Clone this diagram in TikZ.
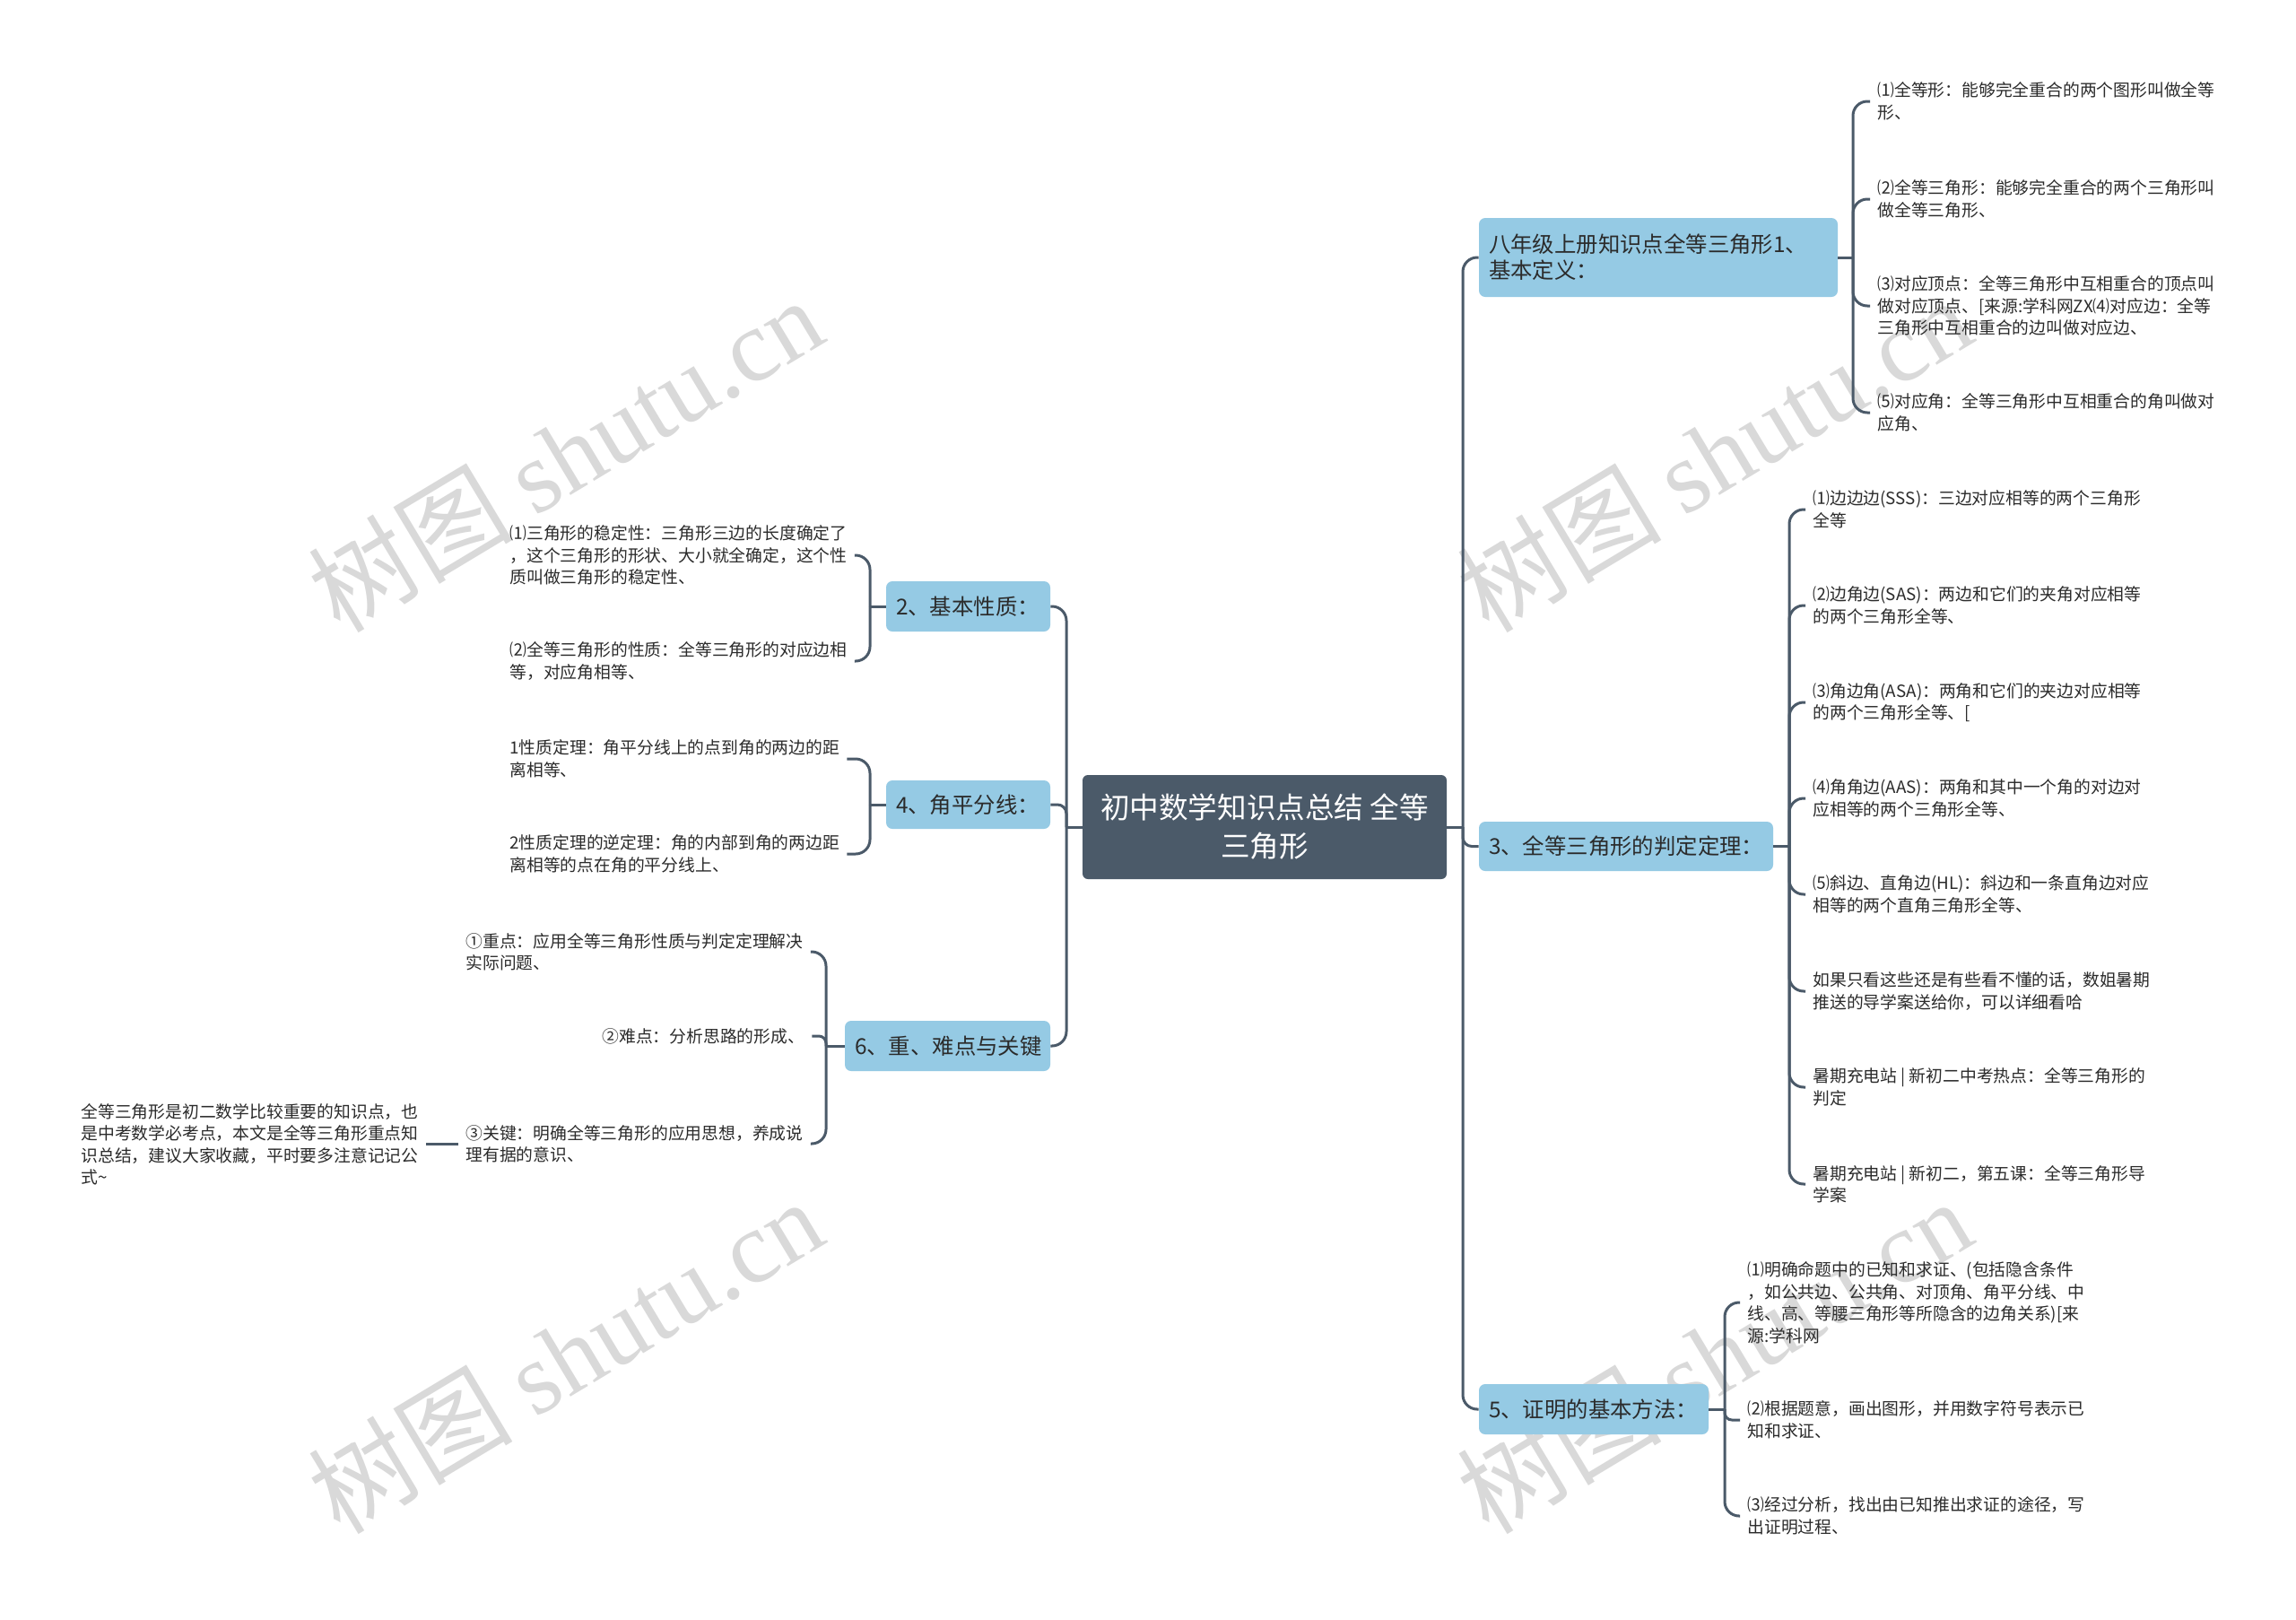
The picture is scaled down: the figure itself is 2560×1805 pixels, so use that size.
\documentclass[tikz,border=0pt]{standalone}
\usepackage{fontspec}
\setmainfont{Noto Sans CJK SC}
\newfontfamily\wmserif{Liberation Serif}
\definecolor{rootc}{HTML}{4B5A69}
\definecolor{branchc}{HTML}{95CAE4}
\definecolor{linec}{HTML}{4B5A69}
\definecolor{txtc}{HTML}{2B2B2B}
\tikzset{
  rootbox/.style={fill=rootc, rounded corners=3pt, text=white, align=center,
    minimum width=203pt, minimum height=58pt, inner sep=0pt,
    font=\fontsize{16.3}{21.5}\selectfont},
  branchbox/.style={fill=branchc, rounded corners=3.5pt, text=txtc, align=left,
    inner xsep=5.5pt, inner ysep=0pt, font=\fontsize{12.2}{14.5}\selectfont},
  leaf/.style={text=txtc, align=left, inner xsep=4pt, inner ysep=2pt,
    font=\fontsize{9.4}{12.25}\selectfont},
  conn/.style={draw=linec, line width=1.5pt, rounded corners=8pt},
  wm/.style={text=black!15, rotate=31, inner sep=0pt,
    font=\fontsize{57}{60}\selectfont}
}
\begin{document}
\begin{tikzpicture}[x=0.5pt,y=-0.5pt]
\useasboundingbox (0,0) rectangle (2560,1805);
\fill[white] (0,0) rectangle (2560,1805);

% watermarks
\node[wm] (wm1) at (630,506) {树图 {\wmserif shutu.cn}};
\node[wm] (wm2) at (630,1511) {树图 {\wmserif shutu.cn}};
\node[wm] (wm3) at (1911,506) {树图 {\wmserif shutu.cn}};
\node[wm] (wm4) at (1911,1511) {树图 {\wmserif shutu.cn}};

% root
\node[rootbox] (root) at (1410,922) {初中数学知识点总结 全等\\三角形};

% right branches
\node[branchbox, text width=189pt, minimum height=44pt] (n1) at (1849,287)
  {八年级上册知识点全等三角形1、\\基本定义：};
\node[branchbox, text width=153pt, minimum height=27.5pt] (n3) at (1813,943.5)
  {3、全等三角形的判定定理：};
\node[branchbox, text width=117pt, minimum height=28pt] (n5) at (1777,1571)
  {5、证明的基本方法：};

% left branches
\node[branchbox, text width=80.5pt, minimum height=28pt] (n2) at (1079.5,676)
  {2、基本性质：};
\node[branchbox, text width=80.5pt, minimum height=27pt] (n4) at (1079.5,897)
  {4、角平分线：};
\node[branchbox, text width=103.5pt, minimum height=28pt] (n6) at (1056.5,1166)
  {6、重、难点与关键};

% leaves of n1
\node[leaf, anchor=west] (l1a) at (2085,113) {⑴全等形：能够完全重合的两个图形叫做全等\\形、};
\node[leaf, anchor=west] (l1b) at (2085,222) {⑵全等三角形：能够完全重合的两个三角形叫\\做全等三角形、};
\node[leaf, anchor=west] (l1c) at (2085,341) {⑶对应顶点：全等三角形中互相重合的顶点叫\\做对应顶点、[来源:学科网ZX⑷对应边：全等\\三角形中互相重合的边叫做对应边、};
\node[leaf, anchor=west] (l1d) at (2085,460) {⑸对应角：全等三角形中互相重合的角叫做对\\应角、};

% leaves of n3
\node[leaf, anchor=west] (l3a) at (2013,568) {⑴边边边(SSS)：三边对应相等的两个三角形\\全等};
\node[leaf, anchor=west] (l3b) at (2013,675) {⑵边角边(SAS)：两边和它们的夹角对应相等\\的两个三角形全等、};
\node[leaf, anchor=west] (l3c) at (2013,783) {⑶角边角(ASA)：两角和它们的夹边对应相等\\的两个三角形全等、[};
\node[leaf, anchor=west] (l3d) at (2013,890) {⑷角角边(AAS)：两角和其中一个角的对边对\\应相等的两个三角形全等、};
\node[leaf, anchor=west] (l3e) at (2013,997) {⑸斜边、直角边(HL)：斜边和一条直角边对应\\相等的两个直角三角形全等、};
\node[leaf, anchor=west] (l3f) at (2013,1105) {如果只看这些还是有些看不懂的话，数姐暑期\\推送的导学案送给你，可以详细看哈};
\node[leaf, anchor=west] (l3g) at (2013,1212) {暑期充电站 | 新初二中考热点：全等三角形的\\判定};
\node[leaf, anchor=west] (l3h) at (2013,1320) {暑期充电站 | 新初二，第五课：全等三角形导\\学案};

% leaves of n5
\node[leaf, anchor=west] (l5a) at (1940,1452) {⑴明确命题中的已知和求证、(包括隐含条件\\，如公共边、公共角、对顶角、角平分线、中\\线、高、等腰三角形等所隐含的边角关系)[来\\源:学科网};
\node[leaf, anchor=west] (l5b) at (1940,1583) {⑵根据题意，画出图形，并用数字符号表示已\\知和求证、};
\node[leaf, anchor=west] (l5c) at (1940,1690) {⑶经过分析，找出由已知推出求证的途径，写\\出证明过程、};

% leaves of n2
\node[leaf, anchor=west] (l2a) at (560,619) {⑴三角形的稳定性：三角形三边的长度确定了\\，这个三角形的形状、大小就全确定，这个性\\质叫做三角形的稳定性、};
\node[leaf, anchor=west] (l2b) at (560,737) {⑵全等三角形的性质：全等三角形的对应边相\\等，对应角相等、};

% leaves of n4
\node[leaf, anchor=west] (l4a) at (560,846) {1性质定理：角平分线上的点到角的两边的距\\离相等、};
\node[leaf, anchor=west] (l4b) at (560,952) {2性质定理的逆定理：角的内部到角的两边距\\离相等的点在角的平分线上、};

% leaves of n6
\node[leaf, anchor=west] (l6a) at (511,1061) {①重点：应用全等三角形性质与判定定理解决\\实际问题、};
\node[leaf, anchor=west] (l6b) at (663,1155) {②难点：分析思路的形成、};
\node[leaf, anchor=west] (l6c) at (511,1275) {③关键：明确全等三角形的应用思想，养成说\\理有据的意识、};
\node[leaf, anchor=west] (l6d) at (82,1276) {全等三角形是初二数学比较重要的知识点，也\\是中考数学必考点，本文是全等三角形重点知\\识总结，建议大家收藏，平时要多注意记记公\\式\textasciitilde};

% junction coordinates
\coordinate (rR) at (1631,922);
\coordinate (rL) at (1189,922);
\coordinate (b1) at (2066,287);
\coordinate (b3) at (1995,943.5);
\coordinate (b5) at (1923,1571);
\coordinate (b2) at (970,676);
\coordinate (b4) at (970,897);
\coordinate (b6) at (921,1166);

% root connectors
\draw[conn] (root.east) -- (rR);
\draw[conn] (rR) |- (n1.west);
\draw[conn, rounded corners=5pt] (rR) |- (n3.west);
\draw[conn] (rR) |- (n5.west);
\draw[conn] (root.west) -- (rL);
\draw[conn] (rL) |- (n2.east);
\draw[conn, rounded corners=5pt] (rL) |- (n4.east);
\draw[conn] (rL) |- (n6.east);

% n1 leaves
\draw[conn] (n1.east) -- (b1);
\foreach \l in {l1a,l1b,l1c,l1d} \draw[conn] (b1) |- (\l.west);
% n3 leaves
\draw[conn] (n3.east) -- (b3);
\foreach \l in {l3a,l3b,l3c,l3d,l3e,l3f,l3g,l3h} \draw[conn] (b3) |- (\l.west);
% n5 leaves
\draw[conn] (n5.east) -- (b5);
\draw[conn] (b5) |- (l5a.west);
\draw[conn, rounded corners=4pt] (b5) |- (l5b.west);
\draw[conn] (b5) |- (l5c.west);
% n2 leaves
\draw[conn] (n2.west) -- (b2);
\draw[conn] (b2) |- (l2a.east);
\draw[conn] (b2) |- (l2b.east);
% n4 leaves
\draw[conn] (n4.west) -- (b4);
\draw[conn] (b4) |- (l4a.east);
\draw[conn] (b4) |- (l4b.east);
% n6 leaves
\draw[conn] (n6.west) -- (b6);
\draw[conn] (b6) |- (l6a.east);
\draw[conn, rounded corners=4pt] (b6) |- (l6b.east);
\draw[conn] (b6) |- (l6c.east);
\draw[conn] (l6c.west) -- (l6c.west -| l6d.east);
\end{tikzpicture}
\end{document}
